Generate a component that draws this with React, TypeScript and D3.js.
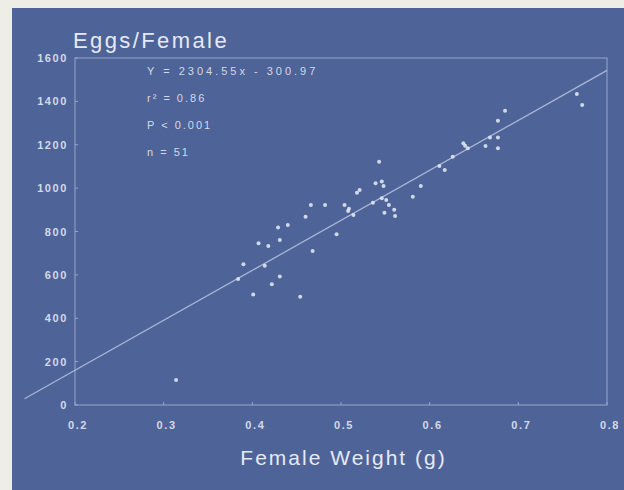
import React, { useEffect } from 'react'
import * as d3 from 'd3'

// female weight (g) and eggs per female
const weights = [
    0.314, 0.384, 0.390, 0.401, 0.407, 0.414, 0.418, 0.422, 0.429, 0.431,
    0.431, 0.440, 0.454, 0.460, 0.466, 0.468, 0.482, 0.495, 0.504, 0.508,
    0.514, 0.518, 0.521, 0.536, 0.539, 0.543, 0.546, 0.546, 0.551, 0.554,
    0.549, 0.561, 0.581, 0.590, 0.611, 0.617, 0.626, 0.638, 0.643, 0.663,
    0.668, 0.677, 0.677, 0.677, 0.685, 0.766, 0.772, 0.548, 0.509, 0.640,
    0.560
]
const eggs = [
    115, 581, 649, 510, 746, 642, 733, 557, 819, 761,
    593, 830, 499, 868, 922, 710, 922, 787, 922, 895,
    876, 979, 991, 933, 1022, 1122, 1030, 953, 945, 922,
    887, 871, 960, 1010, 1102, 1084, 1145, 1207, 1184, 1194,
    1234, 1234, 1184, 1311, 1357, 1434, 1383, 1010, 905, 1195,
    900
]

const xTicks = [0.2, 0.3, 0.4, 0.5, 0.6, 0.7, 0.8]
const yTicks = [0, 200, 400, 600, 800, 1000, 1200, 1400, 1600]

// regression from the slide
const slope = 2304.55
const intercept = -300.97
const lineStart = 0.143
const lineEnd = 0.8

const statLines = ["Y = 2304.55x - 300.97", "r² = 0.86", "P < 0.001", "n = 51"]

const width = 624
const height = 490
const plot = { left: 75, right: 607, top: 58, bottom: 405 }

const bg = "#4e6397"
const ink = "#e6eaf4"
const soft = "#d3d9e8"
const frame = "#97a6ca"
const font = "'Liberation Sans', Arial, sans-serif"

export default function App() {
    useEffect(() => {
        document.body.style.margin = "0"
    }, [])

    const x = d3.scaleLinear().domain([0.2, 0.8]).range([plot.left, plot.right])
    const y = d3.scaleLinear().domain([0, 1600]).range([plot.bottom, plot.top])

    const fit = d3.line<number>()
        .x(d => x(d))
        .y(d => y(slope * d + intercept))

    return (
        <svg width={width} height={height} style={{ display: "block", background: "#efeee6" }}>
            <rect x={12} y={8} width={width - 12} height={height - 8} fill={bg} />

            <text x={73} y={48} fill={ink} fontFamily={font} fontSize={22} letterSpacing={2.4}>
                Eggs/Female
            </text>

            {/* frame */}
            <rect x={plot.left} y={plot.top} width={plot.right - plot.left} height={plot.bottom - plot.top}
                fill="none" stroke={frame} strokeWidth={1} />

            {yTicks.map(t => (
                <g key={"y" + t}>
                    <line x1={plot.left} x2={plot.left + 3} y1={y(t)} y2={y(t)} stroke={frame} />
                    <text x={68} y={y(t) + 4} textAnchor="end" fill={soft} fontFamily={font}
                        fontSize={11} fontWeight="bold" letterSpacing={1.6}>{t}</text>
                </g>
            ))}
            {xTicks.map(t => (
                <g key={"x" + t}>
                    <line x1={x(t)} x2={x(t)} y1={plot.bottom} y2={plot.bottom - 3} stroke={frame} />
                    <text x={x(t) + 3} y={429} textAnchor="middle" fill={soft} fontFamily={font}
                        fontSize={11} fontWeight="bold" letterSpacing={1.6}>{t.toFixed(1)}</text>
                </g>
            ))}

            <text x={(232 + 455) / 2} y={465} textAnchor="middle" fill={ink} fontFamily={font}
                fontSize={21} letterSpacing={2}>Female Weight (g)</text>

            {statLines.map((s, i) => (
                <text key={s} x={147} y={75 + i * 27} fill={soft} fontFamily={font} fontSize={11}
                    letterSpacing={s.startsWith("Y") ? 3 : 2}>{s}</text>
            ))}

            <path d={fit([lineStart, lineEnd]) || ""} fill="none" stroke="#a9b6d6" strokeWidth={1.3} />

            {weights.map((w, i) => (
                <circle key={i} cx={x(w)} cy={y(eggs[i])} r={2} fill="#dfe5f3" opacity={0.9} />
            ))}
        </svg>
    )
}
